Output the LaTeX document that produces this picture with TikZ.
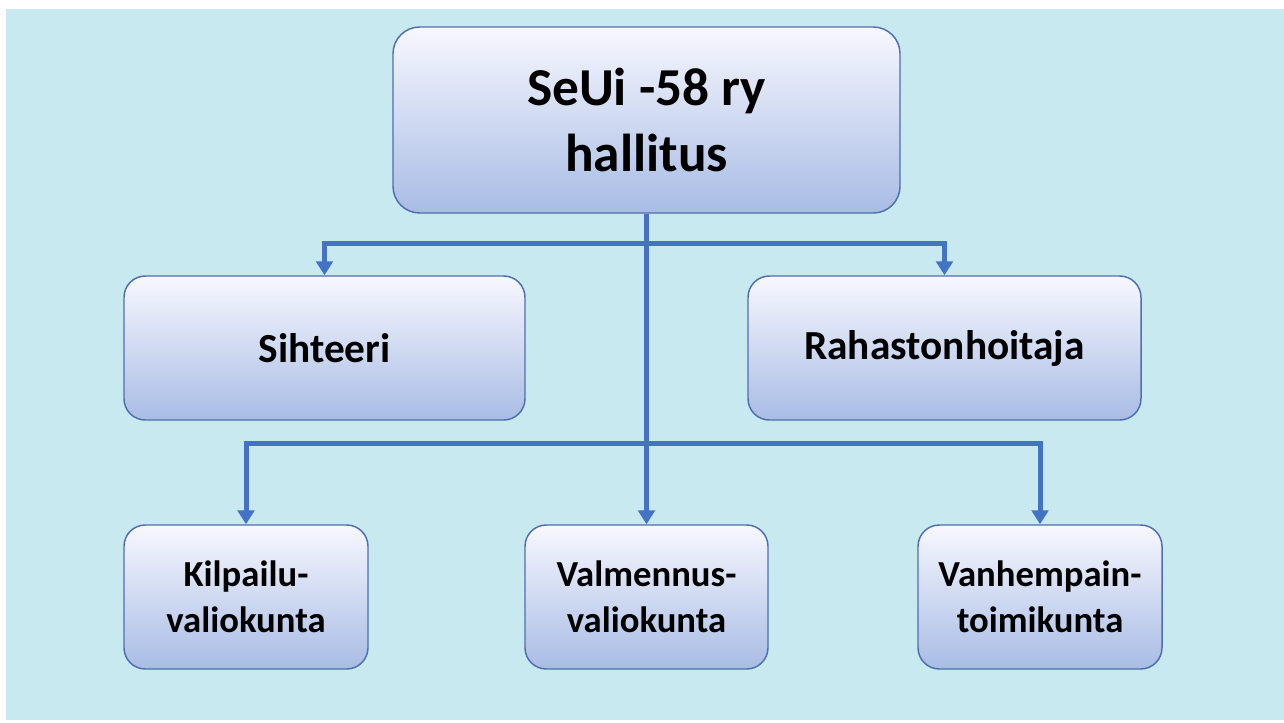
\documentclass[tikz,border=0pt]{standalone}
\usepackage{fontspec}
\setmainfont{Carlito}
\usepackage{xcolor}
\usetikzlibrary{arrows.meta,positioning}
\definecolor{drop}{HTML}{C8E9EF}
\definecolor{link}{HTML}{4472C4}
\definecolor{rim}{HTML}{4F6FAE}
\tikzset{
  box/.style={draw=rim, line width=1.1pt, rounded corners=16pt, top color=blue!3!white, bottom color={rgb,255:red,168;green,188;blue,228},
    align=center, font=\bfseries, inner sep=2pt},
  flow/.style={-{Triangle[width=12.5pt,length=10.5pt]}, draw=link, line width=3.75pt},
}
\begin{document}
\begin{tikzpicture}[x=0.75pt,y=-0.75pt]
  \useasboundingbox (0,0) rectangle (1284,722);
  \fill[drop] (6,9) rectangle (1284,720);
  % boxes
  \node[box, minimum width=507*0.75pt, minimum height=186*0.75pt, rounded corners=20pt,
        font=\bfseries\fontsize{40}{49}\selectfont] (board) at (646.5,120) {SeUi -58 ry\\hallitus};
  \node[box, minimum width=401*0.75pt, minimum height=144*0.75pt,
        font=\bfseries\fontsize{31}{37}\selectfont] (secr) at (324.5,348) {Sihteeri};
  \node[box, minimum width=393*0.75pt, minimum height=144*0.75pt,
        font=\bfseries\fontsize{31}{37}\selectfont] (treas) at (944.5,348) {Rahastonhoitaja};
  \node[box, minimum width=244*0.75pt, minimum height=144*0.75pt,
        font=\bfseries\fontsize{27.5}{34.5}\selectfont] (comp) at (246,597) {Kilpailu-\\valiokunta};
  \node[box, minimum width=243*0.75pt, minimum height=144*0.75pt,
        font=\bfseries\fontsize{27.5}{34.5}\selectfont] (coach) at (646.5,597) {Valmennus-\\valiokunta};
  \node[box, minimum width=244*0.75pt, minimum height=144*0.75pt,
        font=\bfseries\fontsize{27.5}{34.5}\selectfont] (parent) at (1040,597) {Vanhempain-\\toimikunta};
  % connectors
  \coordinate (split1) at (646.5,243);
  \coordinate (split2) at (646.5,443);
  \draw[flow] (board) -- (coach);
  \draw[flow] (split1) -| (secr);
  \draw[flow] (split1) -| (treas);
  \draw[flow] (split2) -| (comp);
  \draw[flow] (split2) -| (parent);
\end{tikzpicture}
\end{document}
